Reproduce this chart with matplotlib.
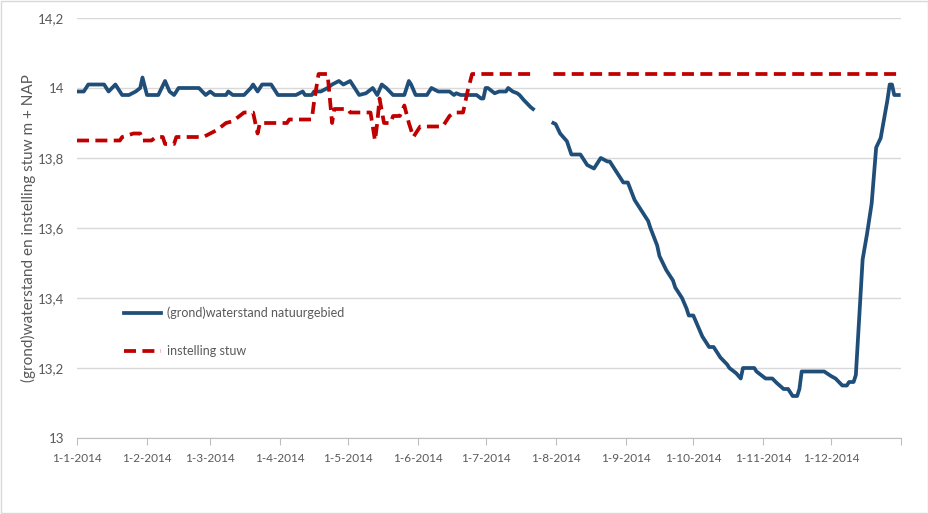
import numpy as np
import matplotlib; matplotlib.use('Agg')
import matplotlib.pyplot as plt
from matplotlib.patches import Rectangle

plt.rcParams['font.family'] = ['Lato', 'DejaVu Sans']

# day of year 2014 (0 = 1 januari); nan = no data
blue_days = [0, 3, 5, 12, 14, 17, 20, 23, 26, 28, 29, 31, 36, 39, 41, 43, 45, 54, 57, 59,
             61, 66, 67, 69, 74, 77, 78, 80, 82, 86, 89, 97, 100, 101, 104, 105, 108, 111,
             113, 116, 118, 121, 123, 125, 128, 129, 131, 133, 135, 137, 140, 145, 147, 148,
             150, 155, 157, 160, 165, 167, 168, 170, 177, 179, 180, 181, 182, 185, 187, 190,
             191, 193, 195, 196, 198, 201, 202, 206, 211, 212, 214, 217, 219, 223, 226, 229,
             232, 235, 236, 242, 244, 247, 249, 253, 254, 257, 258, 261, 264, 265, 268, 270,
             271, 273, 275, 277, 280, 282, 285, 288, 289, 291, 292, 294, 295, 300, 301, 303,
             305, 308, 310, 313, 315, 317, 319, 320, 321, 331, 334, 336, 339, 341, 342, 344,
             345, 347, 348, 350, 352, 354, 356, 359, 360, 361, 362, 364]
blue_vals = [13.99, 13.99, 14.01, 14.01, 13.99, 14.01, 13.98, 13.98, 13.99, 14.00, 14.03, 13.98,
             13.98, 14.02, 13.99, 13.98, 14.00, 14.00, 13.98, 13.99, 13.98, 13.98, 13.99, 13.98,
             13.98, 14.00, 14.01, 13.99, 14.01, 14.01, 13.98, 13.98, 13.99, 13.98, 13.98, 13.99,
             13.99, 14.00, 14.01, 14.02, 14.01, 14.02, 14.00, 13.98, 13.985, 13.99, 14.00, 13.98,
             14.01, 14.00, 13.98, 13.98, 14.02, 14.01, 13.98, 13.98, 14.00, 13.99, 13.99, 13.98,
             13.985, 13.98, 13.98, 13.97, 13.97, 14.00, 14.00, 13.985, 13.99, 13.99, 14.00, 13.99,
             13.985, 13.98, 13.965, 13.945, 13.94, np.nan, 13.90, 13.897, 13.87, 13.848, 13.81,
             13.81, 13.78, 13.77, 13.80, 13.79, 13.79, 13.73, 13.73, 13.68, 13.66, 13.62, 13.60,
             13.55, 13.52, 13.48, 13.45, 13.43, 13.40, 13.37, 13.35, 13.35, 13.32, 13.29, 13.26,
             13.26, 13.23, 13.21, 13.20, 13.19, 13.185, 13.17, 13.20, 13.20, 13.19, 13.18, 13.17,
             13.17, 13.157, 13.14, 13.14, 13.12, 13.12, 13.14, 13.19, 13.19, 13.177, 13.17, 13.15,
             13.15, 13.16, 13.16, 13.18, 13.40, 13.51, 13.585, 13.67, 13.83, 13.857, 13.966,
             14.01, 14.01, 13.98, 13.98]

red_days = [0, 19, 20, 25, 28, 29, 33, 35, 38, 39, 43, 44, 56, 59, 62, 66, 69, 74, 78, 80, 81,
            93, 94, 104, 105, 107, 111, 113, 114, 116, 120, 121, 130, 131, 132, 133, 134, 136,
            139, 140, 143, 145, 147, 149, 152, 162, 165, 167, 171, 173, 175, 202, 206, 211, 364]
red_vals = [13.85, 13.85, 13.86, 13.87, 13.87, 13.85, 13.85, 13.86, 13.86, 13.84, 13.84, 13.86,
            13.86, 13.87, 13.88, 13.90, 13.905, 13.93, 13.93, 13.87, 13.90, 13.90, 13.91, 13.91,
            13.96, 14.04, 14.04, 13.90, 13.94, 13.94, 13.94, 13.93, 13.93, 13.89, 13.85, 13.90,
            13.97, 13.90, 13.90, 13.92, 13.92, 13.95, 13.90, 13.86, 13.89, 13.89, 13.92, 13.93,
            13.93, 13.99, 14.04, 14.04, np.nan, 14.04, 14.04]

blue_label = '(grond)waterstand natuurgebied'
red_label = 'instelling stuw'
y_label = '(grond)waterstand en instelling stuw m + NAP'
y_ticks = [13.0, 13.2, 13.4, 13.6, 13.8, 14.0, 14.2]
y_ticklabels = ['13', '13,2', '13,4', '13,6', '13,8', '14', '14,2']

start = np.datetime64('2014-01-01')
bx = start + np.array(blue_days).astype('timedelta64[D]')
rx = start + np.array(red_days).astype('timedelta64[D]')
months = [np.datetime64(f'2014-{m:02d}-01') for m in range(1, 13)] + [np.datetime64('2015-01-01')]
month_labels = [f'1-{m}-2014' for m in range(1, 13)] + ['']

fig = plt.figure(figsize=(9.29, 5.14), dpi=100)
ax = fig.add_axes([77/929, 76/514, 824/929, 420/514])
grey = '#595959'

ax.plot(bx, blue_vals, color='#1f4e79', lw=2.7, label=blue_label, solid_joinstyle='round')
ax.plot(rx, red_vals, color='#c00000', lw=2.7, dashes=(3.2, 1.7), label=red_label)

ax.set_xlim(months[0], months[-1])
ax.set_ylim(13, 14.2)
ax.set_yticks(y_ticks)
ax.set_yticklabels(y_ticklabels)
ax.set_xticks(months)
ax.set_xticklabels(month_labels)
ax.grid(axis='y', color='#d9d9d9', lw=1)
ax.set_axisbelow(True)
for s in ['top', 'right', 'left']:
    ax.spines[s].set_visible(False)
ax.spines['bottom'].set_color('#bfbfbf')
ax.tick_params(axis='y', length=0, pad=9, labelsize=9.5, labelcolor=grey)
ax.tick_params(axis='x', length=5, color='#bfbfbf', pad=6, labelsize=8.5, labelcolor=grey)
ax.set_ylabel(y_label, fontsize=11, color=grey)
ax.yaxis.set_label_coords(-0.050, 0.5)

ax.legend(loc='upper left', bbox_to_anchor=(0.043, 0.34), frameon=False, fontsize=9,
          labelcolor=grey, handlelength=3.0, labelspacing=2.1, handletextpad=0.5)

fig.patches.append(Rectangle((0.001, 0.001), 0.998, 0.997, transform=fig.transFigure,
                             fill=False, edgecolor='#d9d9d9', lw=1))
fig.savefig('out.png', dpi=100)
